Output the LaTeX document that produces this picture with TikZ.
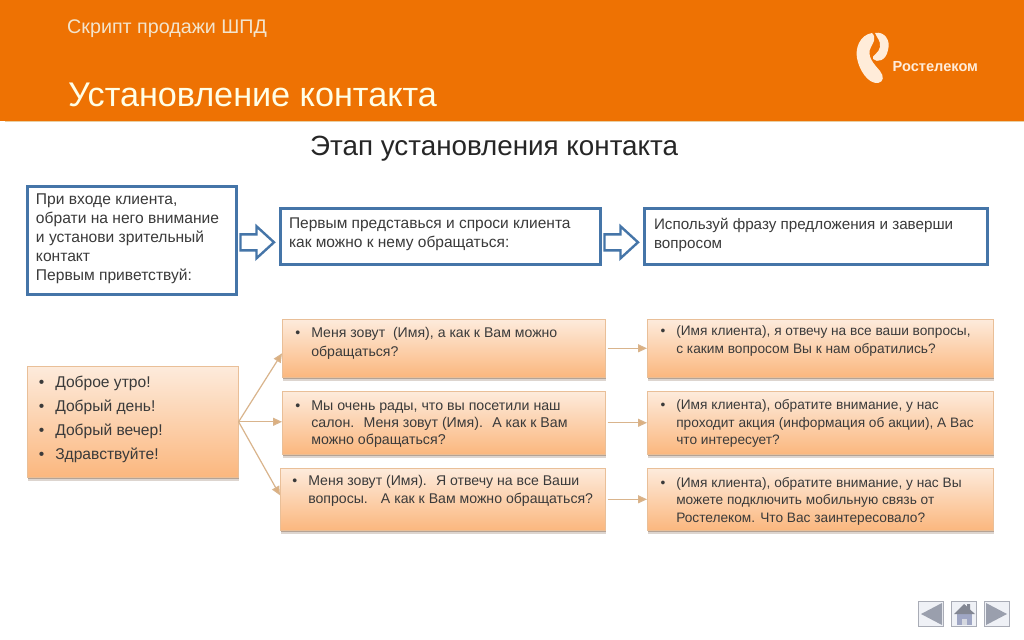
\documentclass[tikz,border=0pt]{standalone}
\usepackage{fontspec}
\setmainfont{Liberation Sans}
\usetikzlibrary{shadows,arrows.meta,calc}
\definecolor{hdr}{HTML}{EE7203}
\definecolor{hdrline}{HTML}{E9CFA2}
\definecolor{blueb}{HTML}{4575A8}
\definecolor{ink}{HTML}{3A3A3A}
\definecolor{peachtop}{HTML}{FDEBDC}
\definecolor{peachbot}{HTML}{FBB77E}
\definecolor{peachedge}{HTML}{E9BF98}
\definecolor{tan}{HTML}{D9B48C}
\definecolor{navb}{HTML}{A9ACB6}
\definecolor{navf}{HTML}{EFF1F6}
\definecolor{navt}{HTML}{9A9FAD}
\definecolor{navh}{HTML}{9FA6C4}
\definecolor{shad}{HTML}{7A5A40}
% width, height, top pad, left pad, font size, line skip, content
\newcommand\inbox[7]{\parbox[c][#2pt][t]{#1pt}{\vspace*{#3pt}\raggedright\leftskip=#4pt \fontsize{#5}{#6}\selectfont #7\par\vss}}
\newcommand\bl{\noindent\llap{•\hspace{11pt}}}
\tikzset{
  x=1pt,y=-1pt,
  bluebox/.style={draw=blueb,line width=2.6pt,fill=white,inner sep=0pt,text=ink,anchor=north west},
  peachbox/.style={top color=peachtop,bottom color=peachbot,draw=peachedge,line width=.6pt,inner sep=0pt,text=ink,anchor=north west,
    drop shadow={shadow xshift=.5pt,shadow yshift=-3.5pt,fill=shad,opacity=.25},
    drop shadow={shadow xshift=.5pt,shadow yshift=-1.8pt,fill=shad,opacity=.4}},
  blockarrow/.style={draw=blueb,line width=2.4pt,fill=white,line join=miter},
  conn/.style={draw=tan,line width=1.2pt,-{Triangle[length=9pt,width=8pt,fill=tan!90!orange]}},
  navbtn/.style={draw=navb,line width=1.2pt,fill=navf,minimum size=25pt,inner sep=0pt},
}
\begin{document}
\begin{tikzpicture}
\useasboundingbox (0,0) rectangle (1024,639);
\fill[white] (0,0) rectangle (1024,639);
\fill[hdrline] (5,120) rectangle (1024,122.5);
\fill[hdr] (0,0) rectangle (1024,121);
\node[anchor=base west,inner sep=0pt,text=hdrline!55!white,font=\fontsize{19.7}{22}\selectfont] (sub) at (67,33.5) {Скрипт продажи ШПД};
\node[anchor=base west,inner sep=0pt,text=white!90!yellow,font=\fontsize{34.2}{38}\selectfont] (main) at (68,106.5) {Установление контакта};
% logo
\fill[white!85!orange] (872,33) .. controls (860,35) and (855,48) .. (857,58) .. controls (859,70) and (868,84) .. (878,83) .. controls (884,82) and (884,76) .. (880,71) .. controls (874,64) and (866,56) .. (871,47) .. controls (873,43) and (877,38) .. (872,33) -- cycle;
\fill[white!85!orange] (875,33) .. controls (884,31) and (891,40) .. (888,50) .. controls (886,61) and (877,63) .. (873,59) .. controls (871,55) and (879,54) .. (880,47) .. controls (881,41) and (877,38) .. (875,33) -- cycle;
\node[anchor=base west,inner sep=0pt,text=white!85!orange,font=\bfseries\fontsize{14.6}{16}\selectfont] (brand) at (892.5,71.5) {Ростелеком};
\node[anchor=base west,inner sep=0pt,text=black!85,font=\fontsize{27.8}{30}\selectfont] (head) at (310,156) {Этап установления контакта};
% top row
\node[bluebox] (a) at (26,185) {\inbox{209.4}{108.4}{7}{8.7}{15.6}{19}{При входе клиента,\\обрати на него внимание\\и установи зрительный\\контакт\\Первым приветствуй:}};
\node[bluebox] (b) at (279,207) {\inbox{320.4}{56.4}{9.5}{8.7}{15.5}{19}{Первым представься и спроси клиента\\как можно к нему обращаться:}};
\node[bluebox] (c) at (643,207) {\inbox{343.4}{56.4}{9.5}{9.7}{15.2}{19}{Используй фразу предложения и заверши\\вопросом}};
\coordinate (ar1) at ([xshift=2.5pt,yshift=2.2pt]a.east |- b.west);
\coordinate (ar2) at ([xshift=2.5pt,yshift=2.2pt]b.east);
\draw[blockarrow] (ar1) -- ++(16,0) -- ++(0,-8) -- ++(17.5,16) -- ++(-17.5,16) -- ++(0,-8) -- ++(-16,0) -- cycle;
\draw[blockarrow] (ar2) -- ++(16,0) -- ++(0,-8) -- ++(17.5,16) -- ++(-17.5,16) -- ++(0,-8) -- ++(-16,0) -- cycle;
% peach boxes
\node[peachbox] (g) at (27,366) {\inbox{211}{111}{10}{28}{15.6}{24}{\bl Доброе утро!\\\bl Добрый день!\\\bl Добрый вечер!\\\bl Здравствуйте!}};
\node[peachbox] (m1) at (282,319) {\inbox{323}{58}{8}{29}{14.1}{19}{\bl Меня зовут~ (Имя), а как к Вам можно\\обращаться?}};
\node[peachbox] (m2) at (282,391) {\inbox{323}{63}{9.5}{29}{14.2}{17}{\bl Мы очень рады, что вы посетили наш\\салон.~ Меня зовут (Имя).~ А как к Вам\\можно обращаться?}};
\node[peachbox] (m3) at (280,468) {\inbox{325}{62}{6.5}{28}{14.1}{18.5}{\bl Меня зовут (Имя).~ Я отвечу на все Ваши\\вопросы.~~ А как к Вам можно обращаться?}};
\node[peachbox] (r1) at (647,319) {\inbox{346}{58}{6.5}{29}{13.7}{18}{\bl (Имя клиента), я отвечу на все ваши вопросы,\\с каким вопросом Вы к нам обратились?}};
\node[peachbox] (r2) at (647,391) {\inbox{346}{63}{8.5}{29}{13.7}{17.5}{\bl (Имя клиента), обратите внимание, у нас\\проходит акция (информация об акции), А Вас\\что интересует?}};
\node[peachbox] (r3) at (647,468) {\inbox{346}{62}{9}{29}{13.7}{17.5}{\bl (Имя клиента), обратите внимание, у нас Вы\\можете подключить мобильную связь от\\Ростелеком. Что Вас заинтересовало?}};
\draw[conn] (g.east) -- ([yshift=-5pt]m1.west);
\draw[conn] (g.east) -- (m2.west |- g.east);
\draw[conn] (g.east) -- ([yshift=4pt]m3.west);
\draw[conn] ([xshift=2pt]m1.east) -- (r1.west);
\draw[conn] ([xshift=2pt]m2.east) -- (r2.west);
\draw[conn] ([xshift=2pt]m3.east) -- (r3.west);
% navigation buttons
\node[navbtn] (n1) at (931,614) {};
\node[navbtn] (n2) at (964,614) {};
\node[navbtn] (n3) at (997,614) {};
\fill[navt] (921,614) -- (942,603) -- (942,625) -- cycle;
\fill[navt] (986,603) -- (1007,614) -- (986,625) -- cycle;
\fill[navh] (957,614) rectangle (972,625);
\fill[navt!85!black] (954,614) -- (964,604) -- (967,606.5) -- (967,604) -- (970,604) -- (970,609.5) -- (975,614) -- cycle;
\fill[navf!70!navt] (962,619) rectangle (967,625);
\end{tikzpicture}
\end{document}
